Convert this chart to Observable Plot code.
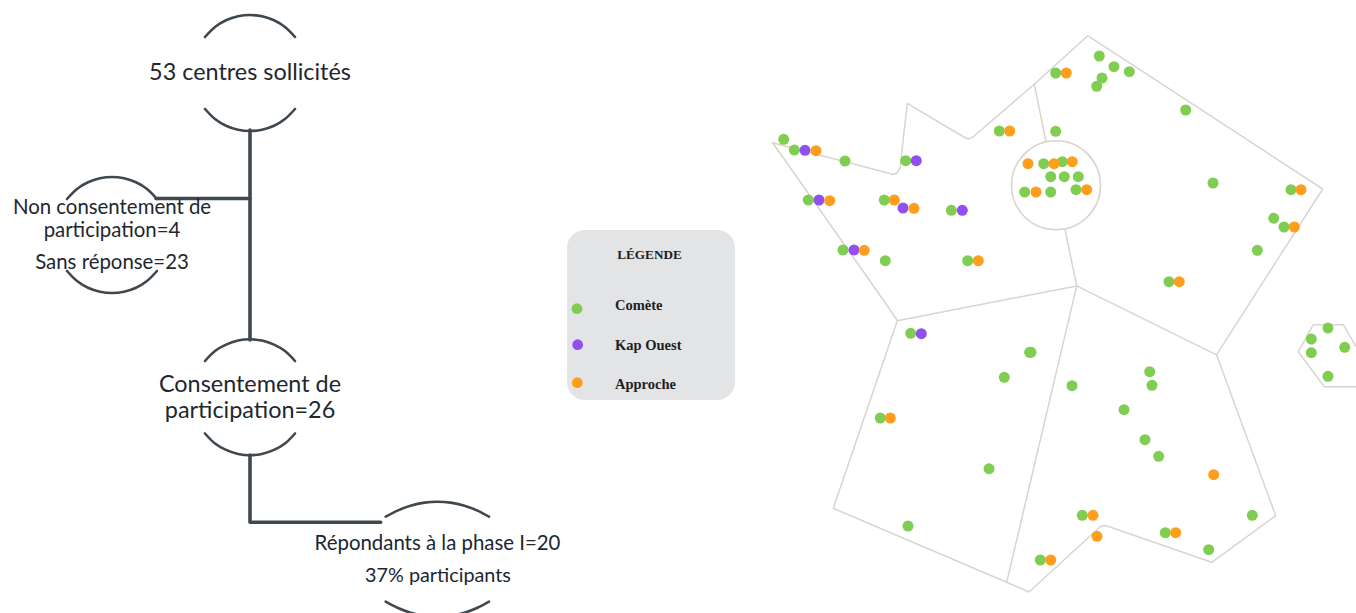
<!DOCTYPE html>
<html lang="fr">
<head>
<meta charset="utf-8">
<script src="https://cdn.jsdelivr.net/npm/d3@7"></script>
<script src="https://cdn.jsdelivr.net/npm/@observablehq/plot@0.6"></script>
<style>html,body{margin:0;padding:0;background:#fff;overflow:hidden}svg{display:block}</style>
</head>
<body>
<div id="chart"></div>
<script>
const seriesNames = ["Comète", "Kap Ouest", "Approche"];
const seriesColors = ["#7fce51", "#9150ee", "#ff9d1c"];

const comete = [[783.7,139.3],[794.3,150],[845,161],[905.7,160.7],[808.3,200],[884.3,200],[951.3,210.3],[843,250],[885.3,260.7],[967.7,260.7],[999.3,131],[1055.7,131.3],
  [1043.7,163.7],[1062.3,161.7],[1050.7,176.7],[1064.3,176.7],[1078.3,176.7],[1024.7,192],[1050.7,192],[1076,189.7],
  [1099.3,56],[1114,66.7],[1129.3,71.7],[1102,78],[1096.7,86.3],[1055.7,73],[1185.7,110],[1213,183],[1291,189.7],[1273.7,218.3],[1284,227],[1257.3,250.3],[1169,281.7],
  [1328,328],[1311.3,339],[1311.3,352.7],[1344.7,347.3],[1328,376.3],
  [910.7,333.3],[1029.6,352.3],[1031,352.3],[1004.3,377.3],[880.3,418],[989,468.7],[908,526],
  [1072,385.7],[1149.7,371.7],[1152,385.3],[1124,409.7],[1145,439.7],[1158.7,456.3],[1082.3,515.3],[1165.3,532.7],[1252.3,515.3],[1208.7,549.7],[1040.3,560]];
const kapOuest = [[805,150.3],[916.3,160.7],[819,200],[903,208],[962.3,210.3],[854,250],[921.3,333.7]];
const approche = [[816,150.7],[829.7,200.7],[894.3,200],[914,208.3],[864.3,250.3],[978.3,260.7],[1009.7,131],
  [1028,163.7],[1054,163.7],[1072.3,161.7],[1036,192],[1086.7,189.7],
  [1066.3,73],[1301,189.7],[1294.3,227],[1179.3,281.7],
  [890.3,418],[1213.7,474.7],[1093,515.3],[1175.7,532.7],[1097,536.3],[1050.7,560]];

const outlineNorthWest = [[772.7,142.7],[888,173],[893,174.5],[897,173],[900,168],[907.3,103.3],[963,136.5],[968,139],[973,137],[1034.3,84.3]];
const outlineWest = [[772.7,142.7],[883.3,300],[897.3,320.7]];
const outlineNorthEast = [[1034.3,84.3],[1087.7,35.7],[1322.7,189],[1216.5,354.8],[1076.7,285.9],[897.3,320.7],[833.3,508.3],[1006.7,582.3],[1029,592],[1100,527],[1103.3,525.5],[1107,526],[1211.7,562.3],[1275.7,515.7],[1216.5,354.8]];
const dividerNorth = [[1034.3,84.3],[1046,141.7]];
const dividerCentre = [[1065,229.3],[1076.7,285.9]];
const dividerSouth = [[1076.7,285.9],[1006.7,582.3]];
const outlineIsland = [[1356,346.7],[1343.3,324.7],[1313.3,324.7],[1298.3,351.7],[1324.3,386.7],[1356,386.7]];
const paris = [[1056,185.3]];

const flowMain = [[250,130],[250,340]];
const flowBranch = [[156,198.5],[250,198.5]];
const flowLast = [[250,455],[250,522.3],[380.7,522.3]];
const arcs = [
  [[205,37],[215,27],[226,20.3],[238,16.3],[250,15],[262,16.3],[274,20.3],[285,27],[295,37]],
  [[205,109],[215,119],[226,125.7],[238,129.7],[250,131],[262,129.7],[274,125.7],[285,119],[295,109]],
  [[67,199],[77,189],[88,182.3],[100,178.3],[112,177],[124,178.3],[136,182.3],[147,189],[157,199]],
  [[67,271],[77,281],[88,287.7],[100,291.7],[112,293],[124,291.7],[136,287.7],[147,281],[157,271]],
  [[205,361],[215,351],[226,344.6],[238,340.6],[250,339.3],[262,340.6],[274,344.6],[285,351],[295,361]],
  [[205,433.5],[215,443.5],[226,449.9],[238,453.9],[250,455.2],[262,453.9],[274,449.9],[285,443.5],[295,433.5]],
  [[385.7,516.7],[397.5,510.6],[410.5,505.7],[424.5,502.6],[437.5,501.7],[450.5,502.6],[464.5,505.7],[477.5,510.6],[489,516.7]],
  [[385.7,601.7],[397.5,607.8],[410.5,612.7],[424.5,615.8],[437.5,616.7],[450.5,615.8],[464.5,612.7],[477.5,607.8],[489,601.7]]
];
const labelsLarge = [["53 centres sollicités",250,72.5],["Consentement de",250,384.5],["participation=26",250,410.5]];
const labelsSmall = [["Non consentement de",112,207.5],["participation=4",112,230.5],["Sans réponse=23",112,262.5],["Répondants à la phase I=20",437.5,543.5]];
const labelsPercent = [["37% participants",438,575.5]];

const legendBox = [{x1:567.5,x2:735.5,y1:230.5,y2:400.5}];
const legendTitle = [["LÉGENDE",649.5,255]];
const legendDots = [[577,308.7],[577.7,344.7],[577.3,382.7]];
const legendLabels = [[615,305],[615,345],[615,384.5]];

const points = [comete, kapOuest, approche].flatMap((list, i) => list.map(([x, y]) => ({x, y, series: seriesNames[i]})));
const keyDots = legendDots.map(([x, y], i) => ({x, y, series: seriesNames[i]}));
const keyLabels = legendLabels.map(([x, y], i) => ({x, y, label: seriesNames[i]}));

const mapLine = d => Plot.line(d, {x: "0", y: "1", stroke: "#d8d5cf", strokeWidth: 1.5, strokeLinejoin: "round"});
const flowLine = d => Plot.line(d, {x: "0", y: "1", stroke: "#3f484e", strokeWidth: 3.6, strokeLinejoin: "round", strokeLinecap: "round"});
const textBase = {x: "1", y: "2", text: "0", fill: "#1d2730", fontFamily: "Lato, 'Noto Sans', sans-serif", textAnchor: "middle", lineAnchor: "middle"};

const chart = Plot.plot({
  width: 1356,
  height: 613,
  margin: 0,
  x: {domain: [0, 1356], range: [-0.5, 1355.5], axis: null},
  y: {domain: [0, 613], range: [-0.5, 612.5], axis: null},
  color: {domain: seriesNames, range: seriesColors, legend: false},
  style: {background: "#ffffff"},
  marks: [
    Plot.rect(legendBox, {x1: "x1", x2: "x2", y1: "y1", y2: "y2", fill: "#e3e4e6", rx: 18}),
    ...[outlineNorthWest, outlineWest, outlineNorthEast, dividerNorth, dividerCentre, dividerSouth, outlineIsland].map(mapLine),
    Plot.dot(paris, {x: "0", y: "1", r: 44.5, stroke: "#d8d5cf", strokeWidth: 1.6, fill: "none"}),
    ...arcs.map(a => Plot.line(a, {x: "0", y: "1", curve: "catmull-rom", stroke: "#3f484e", strokeWidth: 2.6, strokeLinecap: "round"})),
    flowLine(flowMain), flowLine(flowBranch), flowLine(flowLast),
    Plot.dot(points, {x: "x", y: "y", r: 5.5, fill: "series"}),
    Plot.dot(keyDots, {x: "x", y: "y", r: 5.4, fill: "series"}),
    Plot.text(labelsLarge, {...textBase, fontSize: 23.4}),
    Plot.text(labelsSmall, {...textBase, fontSize: 20.4}),
    Plot.text(labelsPercent, {...textBase, fontSize: 19.8}),
    Plot.text(legendTitle, {x: "1", y: "2", text: "0", fill: "#1e1e22", fontFamily: "'Liberation Serif', serif", fontWeight: "bold", fontSize: 13.2, textAnchor: "middle"}),
    Plot.text(keyLabels, {x: "x", y: "y", text: "label", fill: "#1e1e22", fontFamily: "'Liberation Serif', serif", fontWeight: "bold", fontSize: 14.5, textAnchor: "start"})
  ]
});
document.getElementById("chart").appendChild(chart);
</script>
</body>
</html>
